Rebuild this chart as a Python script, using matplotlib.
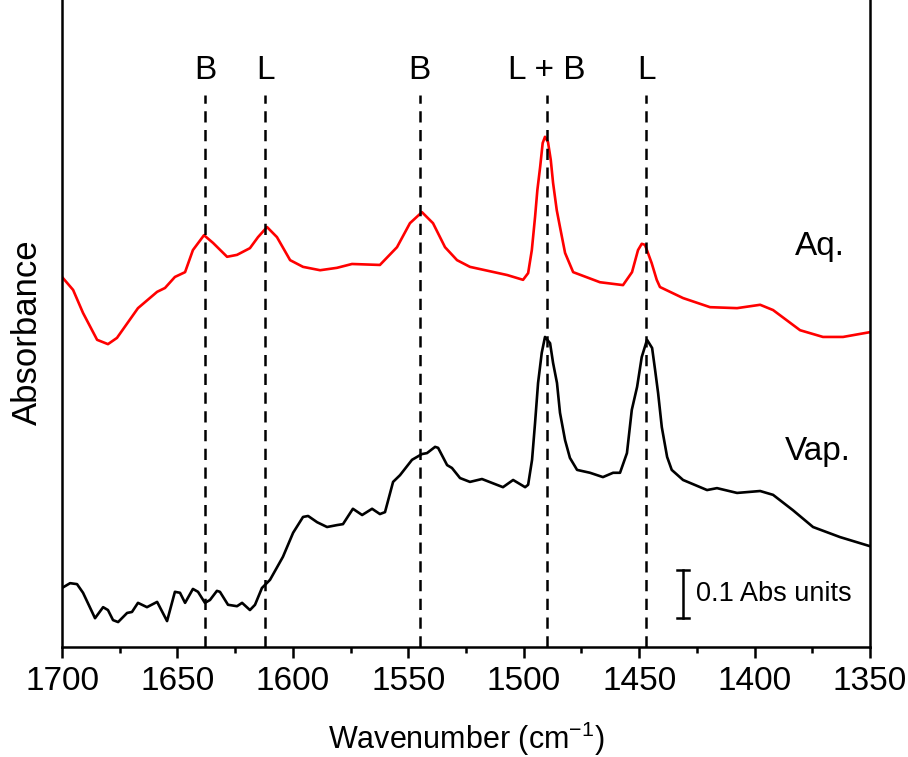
import matplotlib
matplotlib.use("Agg")
import matplotlib.pyplot as plt
from matplotlib.ticker import MultipleLocator

plt.rcParams["font.family"] = ["Liberation Sans", "DejaVu Sans"]
plt.rcParams["mathtext.fontset"] = "custom"
plt.rcParams["mathtext.rm"] = "Liberation Sans"
plt.rcParams["mathtext.it"] = "Liberation Sans"

# ---- Data -----------------------------------------------------------------
aq_wn = [1700, 1695.2, 1690.9, 1684.8, 1680.1, 1676.2, 1667.1, 1658.8, 1655.4,
         1651.1, 1646.7, 1643.3, 1638.5, 1634.6, 1628.5, 1624.2, 1618.6, 1615.1,
         1611.2, 1606.9, 1601.2, 1595.6, 1588.2, 1580.9, 1574.4, 1562.3, 1554.9,
         1549.3, 1544.1, 1539.3, 1534.1, 1528.9, 1523.3, 1507.2, 1500.3, 1498.1,
         1496.5, 1495.1, 1494.1, 1492.9, 1491.8, 1490.8, 1489.5, 1488.3, 1487.3,
         1485.7, 1484.3, 1482.1, 1478.6, 1467.0, 1457.0, 1453.1, 1450.5, 1448.9,
         1447.5, 1444.6, 1442.4, 1441.0, 1431.0, 1419.3, 1407.6, 1397.6, 1392.0,
         1380.3, 1370.4, 1361.7, 1350]
aq_abs = [0.771, 0.744, 0.696, 0.640, 0.631, 0.644, 0.706, 0.740, 0.748,
          0.771, 0.781, 0.827, 0.858, 0.842, 0.813, 0.817, 0.831, 0.854,
          0.875, 0.854, 0.806, 0.792, 0.785, 0.790, 0.798, 0.796, 0.833,
          0.883, 0.906, 0.883, 0.833, 0.806, 0.792, 0.775, 0.765, 0.779,
          0.827, 0.896, 0.952, 1.000, 1.050, 1.063, 1.052, 1.015, 0.967,
          0.910, 0.875, 0.821, 0.781, 0.760, 0.754, 0.781, 0.827, 0.840,
          0.838, 0.800, 0.765, 0.750, 0.727, 0.708, 0.706, 0.713, 0.702,
          0.660, 0.646, 0.646, 0.656]

vap_wn = [1700, 1696.5, 1693.5, 1690.9, 1685.7, 1682.2, 1680.1, 1677.9, 1675.7,
          1671.8, 1669.7, 1667.1, 1663.2, 1658.8, 1654.5, 1651.1, 1648.9, 1646.7,
          1643.3, 1641.1, 1638.1, 1635.9, 1632.9, 1631.6, 1628.1, 1624.2, 1622.0,
          1618.6, 1616.4, 1613.4, 1609.9, 1604.3, 1599.9, 1595.6, 1593.4, 1589.5,
          1585.2, 1580.9, 1578.3, 1574.0, 1570.0, 1565.7, 1562.3, 1560.1, 1556.6,
          1553.6, 1548.4, 1544.1, 1541.9, 1538.4, 1537.1, 1533.2, 1531.1, 1527.6,
          1523.3, 1518.1, 1509.0, 1504.6, 1499.4, 1498.1, 1496.4, 1495.1, 1493.8,
          1492.2, 1490.8, 1488.6, 1487.3, 1485.6, 1484.3, 1482.1, 1480.0, 1476.9,
          1471.3, 1465.7, 1461.3, 1458.3, 1455.3, 1453.2, 1450.9, 1448.9, 1446.6,
          1444.4, 1443.1, 1441.8, 1440.2, 1437.9, 1435.9, 1431.0, 1420.6, 1416.3,
          1407.6, 1397.6, 1392.0, 1383.4, 1374.7, 1363.0, 1350]
vap_abs = [0.123, 0.133, 0.131, 0.113, 0.060, 0.083, 0.077, 0.056, 0.052,
           0.071, 0.073, 0.092, 0.083, 0.094, 0.054, 0.115, 0.113, 0.092,
           0.121, 0.115, 0.092, 0.098, 0.117, 0.115, 0.088, 0.085, 0.092,
           0.077, 0.088, 0.123, 0.140, 0.188, 0.238, 0.271, 0.273, 0.260,
           0.250, 0.254, 0.256, 0.288, 0.275, 0.288, 0.277, 0.281, 0.344,
           0.358, 0.390, 0.402, 0.404, 0.417, 0.415, 0.379, 0.373, 0.352,
           0.344, 0.350, 0.333, 0.348, 0.333, 0.338, 0.390, 0.467, 0.550,
           0.613, 0.646, 0.633, 0.592, 0.550, 0.488, 0.431, 0.394, 0.369,
           0.363, 0.354, 0.363, 0.363, 0.404, 0.494, 0.542, 0.604, 0.640,
           0.623, 0.577, 0.529, 0.458, 0.396, 0.369, 0.348, 0.327, 0.331,
           0.321, 0.325, 0.317, 0.285, 0.250, 0.229, 0.210]

band_wn = [1638, 1612, 1545, 1490, 1447]
band_labels = ["B", "L", "B", "L + B", "L"]

xticks = [1700, 1650, 1600, 1550, 1500, 1450, 1400, 1350]

# ---- Plot -------------------------------------------------------------------
fig = plt.figure(figsize=(9.08, 7.57), dpi=100)
ax = fig.add_axes([0.0683, 0.1453, 0.8899, 0.8547])

ax.plot(aq_wn, aq_abs, color="#ff0000", lw=1.9)
ax.plot(vap_wn, vap_abs, color="black", lw=1.9)

for wn, lab in zip(band_wn, band_labels):
    ax.plot([wn, wn], [0, 1.15], color="black", lw=1.8, ls=(0, (4.5, 3)))
    ax.text(wn, 1.202, lab, ha="center", va="center", fontsize=24)

ax.text(1382.5, 0.835, "Aq.", ha="left", va="center", fontsize=24)
ax.text(1386.8, 0.408, "Vap.", ha="left", va="center", fontsize=24)

# scale bar
ax.plot([1431, 1431], [0.06, 0.16], color="black", lw=1.8)
ax.plot([1433.5, 1428.5], [0.06, 0.06], color="black", lw=1.8)
ax.plot([1433.5, 1428.5], [0.16, 0.16], color="black", lw=1.8)
ax.text(1425.4, 0.110, "0.1 Abs units", ha="left", va="center", fontsize=19.5)

ax.set_xlim(1700, 1350)
ax.set_ylim(0, 1.348)
ax.set_xticks(xticks)
ax.xaxis.set_minor_locator(MultipleLocator(25))
ax.set_yticks([])
ax.tick_params(axis="x", which="major", direction="out", length=8, width=1.8,
               labelsize=24, pad=6)
ax.tick_params(axis="x", which="minor", direction="out", length=4.5, width=1.8)

for side in ["left", "right", "bottom"]:
    ax.spines[side].set_linewidth(1.8)
ax.spines["top"].set_visible(False)

ax.set_xlabel("Wavenumber (cm$^{-1}$)", fontsize=22, labelpad=16)
fig.text(0.041, 0.561, "Absorbance", rotation=90, rotation_mode="anchor",
         ha="center", va="baseline", fontsize=25)

fig.savefig("out.png", dpi=100)
